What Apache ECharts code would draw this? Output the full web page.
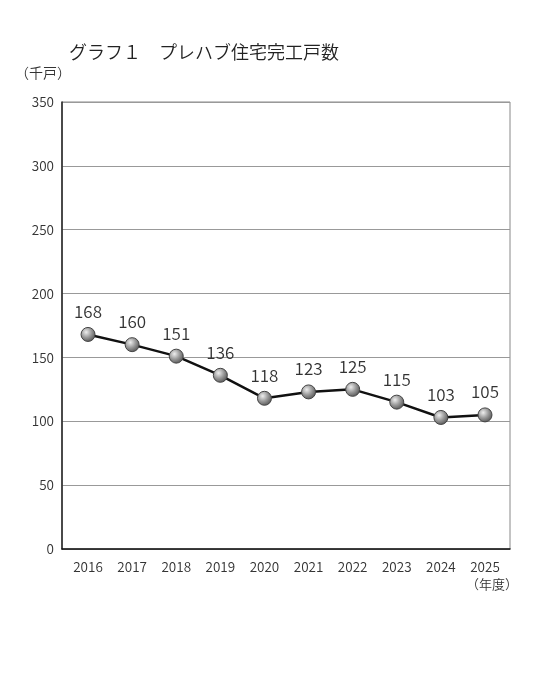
<!DOCTYPE html>
<html><head><meta charset="utf-8">
<script src="https://cdn.jsdelivr.net/npm/echarts@6/dist/echarts.min.js"></script>
<style>html,body{margin:0;padding:0;background:#fff}#c{width:556px;height:673px}</style>
</head><body><div id="c"></div>
<script>
var years = [2016, 2017, 2018, 2019, 2020, 2021, 2022, 2023, 2024, 2025];
var values = [168, 160, 151, 136, 118, 123, 125, 115, 103, 105];
var yTicks = [0, 50, 100, 150, 200, 250, 300, 350];
var FONT = '"Noto Sans CJK JP", "Noto Sans", sans-serif';
var W = 350;
var chart = echarts.init(document.getElementById('c'));
chart.setOption({
  animation: false,
  backgroundColor: '#fff',
  textStyle: { fontFamily: FONT },
  title: {
    text: 'グラフ１　プレハブ住宅完工戸数',
    left: 64, top: 38,
    textStyle: { fontSize: 18, fontWeight: W, color: '#222', fontFamily: FONT }
  },
  graphic: [
    { type: 'text', left: 15, top: 66, style: { text: '（千戸）', fontSize: 14, fontWeight: W, fill: '#333', fontFamily: FONT } },
    { type: 'text', left: 466, top: 578, style: { text: '（年度）', fontSize: 13, fontWeight: W, fill: '#333', fontFamily: FONT } }
  ],
  grid: { left: 62, right: 46, top: 102, bottom: 124, show: true, borderColor: '#888', borderWidth: 1, containLabel: false },
  xAxis: {
    type: 'value', min: 2015.41, max: 2025.567,
    axisLine: { show: true, onZero: false, lineStyle: { color: '#111', width: 1.5 } },
    axisTick: { show: false },
    splitLine: { show: false },
    axisLabel: { customValues: years, fontSize: 13.5, fontWeight: W, color: '#333', margin: 11, fontFamily: FONT, formatter: function (v) { return String(Math.round(v)); } }
  },
  yAxis: {
    type: 'value', min: 0, max: 350, interval: 50,
    axisLine: { show: true, lineStyle: { color: '#222', width: 1.5 } },
    axisTick: { show: false },
    splitLine: { show: true, lineStyle: { color: '#999', width: 1 } },
    axisLabel: { fontSize: 13.5, fontWeight: W, color: '#333', margin: 8, fontFamily: FONT }
  },
  series: [{
    type: 'line',
    data: years.map(function (y, i) { return [y, values[i]]; }),
    lineStyle: { color: '#111', width: 2.5 },
    symbol: 'circle', symbolSize: 14,
    itemStyle: {
      color: { type: 'radial', x: 0.38, y: 0.35, r: 0.7, colorStops: [
        { offset: 0, color: '#eeeeee' }, { offset: 0.5, color: '#9a9a9a' }, { offset: 1, color: '#505050' } ] },
      borderColor: '#444', borderWidth: 1
    },
    label: { show: true, position: 'top', distance: 7, fontSize: 17, fontWeight: W, color: '#333', fontFamily: FONT,
      formatter: function (p) { return p.value[1]; } }
  }]
});
</script></body></html>
